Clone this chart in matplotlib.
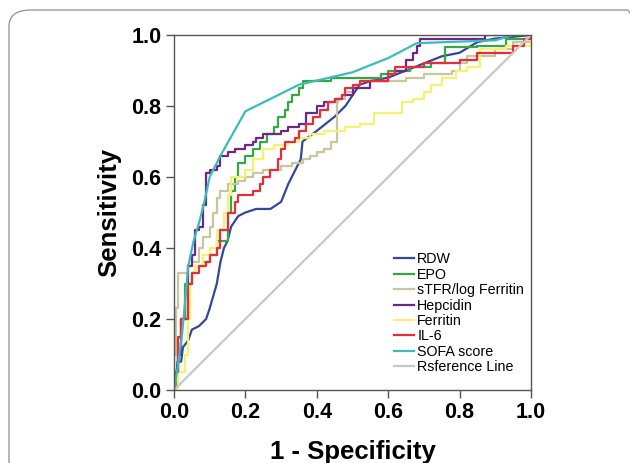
import numpy as np
import matplotlib
matplotlib.use("Agg")
import matplotlib.pyplot as plt
from matplotlib.patches import FancyBboxPatch

# ROC curve points (1 - specificity, sensitivity)
rdw_x = [0, 0.005, 0.01, 0.02, 0.025, 0.04, 0.05, 0.07, 0.09, 0.1, 0.12, 0.13, 0.14, 0.15,
         0.16, 0.18, 0.2, 0.23, 0.27, 0.3, 0.32, 0.34, 0.355, 0.36, 0.4, 0.45, 0.48, 0.5,
         0.52, 0.55, 0.6, 0.65, 0.7, 0.75, 0.8, 0.85, 0.9, 1.0]
rdw_y = [0, 0.03, 0.08, 0.08, 0.12, 0.14, 0.17, 0.18, 0.2, 0.23, 0.3, 0.36, 0.4, 0.42,
         0.46, 0.49, 0.5, 0.51, 0.51, 0.53, 0.58, 0.62, 0.65, 0.7, 0.73, 0.77, 0.8, 0.83,
         0.86, 0.87, 0.88, 0.9, 0.92, 0.94, 0.95, 0.98, 0.99, 1.0]

epo_x = [0, 0.005, 0.01, 0.02, 0.03, 0.04, 0.05, 0.06, 0.08, 0.1, 0.12, 0.14, 0.15, 0.16,
         0.17, 0.18, 0.2, 0.22, 0.24, 0.26, 0.28, 0.29, 0.31, 0.32, 0.33, 0.35, 0.36, 0.44,
         0.58, 0.6, 0.66, 0.72, 0.76, 0.85, 0.9, 0.93, 1.0]
epo_y = [0, 0.04, 0.1, 0.2, 0.3, 0.3, 0.33, 0.35, 0.36, 0.38, 0.42, 0.42, 0.5, 0.56,
         0.6, 0.64, 0.66, 0.68, 0.7, 0.72, 0.74, 0.77, 0.79, 0.81, 0.83, 0.85, 0.87, 0.88,
         0.89, 0.9, 0.91, 0.92, 0.965, 0.97, 0.97, 0.99, 1.0]

stfr_x = [0, 0.0, 0.005, 0.01, 0.03, 0.04, 0.05, 0.07, 0.08, 0.1, 0.11, 0.12, 0.13, 0.15,
          0.18, 0.2, 0.22, 0.25, 0.3, 0.33, 0.36, 0.38, 0.4, 0.42, 0.44, 0.457, 0.46, 0.48,
          0.5, 0.52, 0.65, 0.7, 0.78, 0.8, 0.82, 0.9, 0.95, 1.0]
stfr_y = [0, 0.1, 0.23, 0.33, 0.33, 0.35, 0.36, 0.4, 0.43, 0.46, 0.5, 0.54, 0.56, 0.58,
          0.59, 0.6, 0.61, 0.62, 0.63, 0.64, 0.65, 0.66, 0.67, 0.68, 0.7, 0.81, 0.82, 0.84,
          0.86, 0.87, 0.88, 0.89, 0.9, 0.92, 0.94, 0.96, 0.98, 1.0]

hep_x = [0, 0.0, 0.01, 0.02, 0.03, 0.04, 0.05, 0.06, 0.07, 0.08, 0.09, 0.1, 0.12, 0.13,
         0.15, 0.17, 0.2, 0.22, 0.23, 0.25, 0.3, 0.32, 0.35, 0.37, 0.4, 0.42, 0.45, 0.47,
         0.5, 0.55, 0.6, 0.62, 0.65, 0.67, 0.68, 0.69, 0.87, 1.0]
hep_y = [0, 0.05, 0.1, 0.2, 0.2, 0.35, 0.38, 0.45, 0.46, 0.52, 0.61, 0.62, 0.63, 0.66,
         0.67, 0.68, 0.69, 0.7, 0.71, 0.72, 0.73, 0.74, 0.75, 0.78, 0.8, 0.81, 0.82, 0.83,
         0.85, 0.87, 0.89, 0.9, 0.93, 0.95, 0.97, 0.99, 1.0, 1.0]

fer_x = [0, 0.01, 0.03, 0.04, 0.045, 0.05, 0.06, 0.08, 0.1, 0.12, 0.14, 0.15, 0.16, 0.2,
         0.22, 0.25, 0.28, 0.32, 0.35, 0.38, 0.42, 0.48, 0.52, 0.56, 0.64, 0.67, 0.7,
         0.72, 0.75, 0.79, 0.82, 0.857, 0.93, 1.0]
fer_y = [0, 0.05, 0.1, 0.2, 0.3, 0.33, 0.35, 0.38, 0.4, 0.45, 0.5, 0.55, 0.6, 0.62,
         0.65, 0.68, 0.69, 0.7, 0.71, 0.72, 0.73, 0.74, 0.75, 0.78, 0.81, 0.82, 0.84,
         0.86, 0.88, 0.9, 0.91, 0.96, 0.97, 1.0]

il6_x = [0, 0.0, 0.01, 0.02, 0.03, 0.04, 0.05, 0.07, 0.09, 0.1, 0.12, 0.13, 0.15, 0.17,
         0.18, 0.22, 0.24, 0.25, 0.27, 0.29, 0.3, 0.31, 0.34, 0.35, 0.37, 0.39, 0.41, 0.43,
         0.45, 0.47, 0.48, 0.5, 0.52, 0.6, 0.62, 0.7, 0.8, 0.85, 0.95, 0.98, 1.0]
il6_y = [0, 0.05, 0.15, 0.2, 0.2, 0.3, 0.33, 0.35, 0.36, 0.38, 0.4, 0.45, 0.5, 0.53,
         0.55, 0.56, 0.58, 0.6, 0.62, 0.65, 0.68, 0.7, 0.71, 0.73, 0.75, 0.77, 0.79, 0.81,
         0.82, 0.83, 0.85, 0.86, 0.87, 0.89, 0.91, 0.92, 0.93, 0.95, 0.97, 0.99, 1.0]

sofa_x = [0, 0.01, 0.023, 0.04, 0.055, 0.07, 0.085, 0.1, 0.13, 0.2, 0.35, 0.5, 0.6, 0.68,
          0.9, 0.95, 1.0]
sofa_y = [0, 0.06, 0.16, 0.35, 0.42, 0.47, 0.53, 0.6, 0.66, 0.785, 0.86, 0.895, 0.935, 0.977,
          0.985, 1.0, 1.0]

ref_x = [0, 1]
ref_y = [0, 1]

series = [
    ("RDW", rdw_x, rdw_y, "#33489c", None),
    ("EPO", epo_x, epo_y, "#35a843", "steps-post"),
    ("sTFR/log Ferritin", stfr_x, stfr_y, "#cac59c", "steps-post"),
    ("Hepcidin", hep_x, hep_y, "#6b2888", "steps-post"),
    ("Ferritin", fer_x, fer_y, "#f6f271", "steps-post"),
    ("IL-6", il6_x, il6_y, "#e52e3a", "steps-post"),
    ("SOFA score", sofa_x, sofa_y, "#3bbcbc", None),
    ("Rsference Line", ref_x, ref_y, "#c8c8c8", None),
]

fig = plt.figure(figsize=(6.3, 4.63), dpi=100)

# rounded frame around the figure
frame = FancyBboxPatch((9 / 630, -0.2), 640 / 630, 1.2 - 10 / 463,
                       boxstyle="round,pad=0,rounding_size=0.035",
                       transform=fig.transFigure, fill=False,
                       edgecolor="#9a9a9a", linewidth=1.0, clip_on=False)
fig.patches.append(frame)

ax = fig.add_axes([174 / 630, (463 - 390) / 463, 357 / 630, 355 / 463])

for name, xs, ys, col, ds in series:
    kw = {}
    if ds:
        kw["drawstyle"] = ds
    ax.plot(xs, ys, color=col, lw=1.6, label=name, **kw)

ax.set_xlim(0, 1)
ax.set_ylim(0, 1)
ticks = [0.0, 0.2, 0.4, 0.6, 0.8, 1.0]
ax.set_xticks(ticks)
ax.set_yticks(ticks)
ax.set_xticklabels(["%.1f" % t for t in ticks], fontsize=15.5, fontweight="bold",
                   family="Liberation Sans")
ax.set_yticklabels(["%.1f" % t for t in ticks], fontsize=15.5, fontweight="bold",
                   family="Liberation Sans")
ax.tick_params(direction="out", length=6, width=1, color="#555555", pad=3)
for s in ax.spines.values():
    s.set_color("#555555")
    s.set_linewidth(1.0)

ax.set_ylabel("Sensitivity", fontsize=18.5, fontweight="bold", family="Liberation Sans",
              labelpad=7)
ax.set_xlabel("1 - Specificity", fontsize=18.5, fontweight="bold", family="Liberation Sans",
              labelpad=12)

ax.legend(loc="lower right", bbox_to_anchor=(1.005, 0.02), frameon=False,
          prop={"family": "Liberation Sans", "size": 10.3}, handlelength=1.35,
          handletextpad=0.25, labelspacing=0.1, borderaxespad=0.2)

fig.savefig("out.png", dpi=100)
